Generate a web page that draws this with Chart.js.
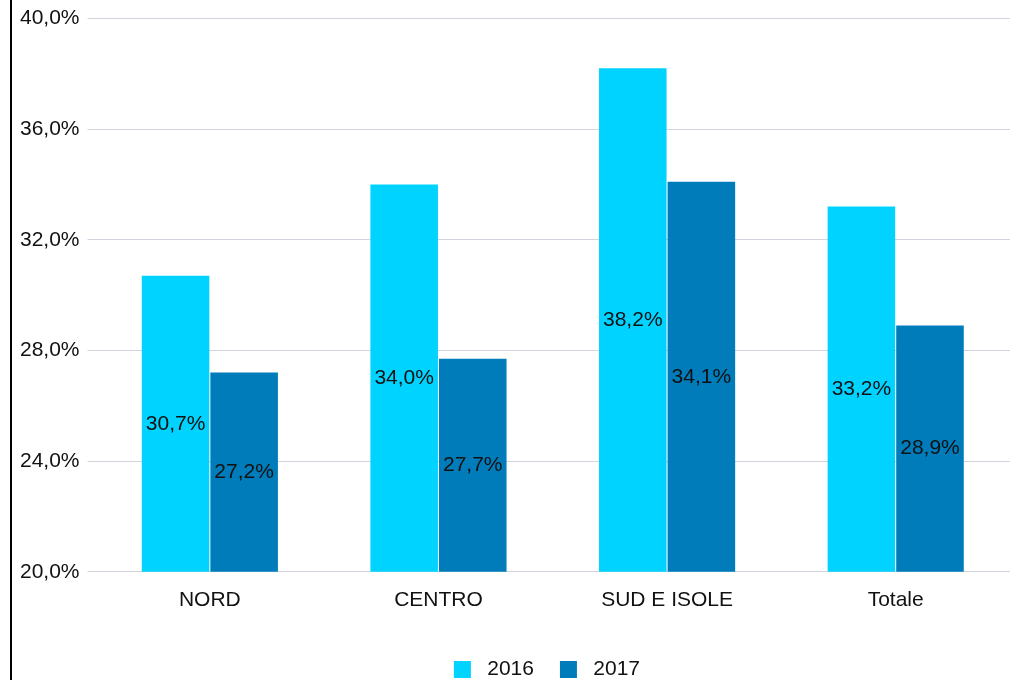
<!DOCTYPE html>
<html>
<head>
<meta charset="utf-8">
<script src="https://cdn.jsdelivr.net/npm/chart.js@4/dist/chart.umd.min.js"></script>
<style>
  body { margin: 0; background: #fff; }
  #wrap { position: absolute; left: 10px; top: 0; width: 1013px; height: 680px; border-left: 2px solid #000; }
</style>
</head>
<body>
<div id="wrap"><canvas id="chart"></canvas></div>
<script>
var categories = ['NORD', 'CENTRO', 'SUD E ISOLE', 'Totale'];
var seriesNames = ['2016', '2017'];
var values2016 = [30.7, 34.0, 38.2, 33.2];
var values2017 = [27.2, 27.7, 34.1, 28.9];
var yTicks = [20, 24, 28, 32, 36, 40];

var FONT = '"Liberation Sans", Arial, sans-serif';

function fmt(v) {
	return v.toFixed(1).replace('.', ',') + '%';
}

// labels in the middle of every bar
var barLabels = {
	id: 'barLabels',
	afterDatasetsDraw: function (chart) {
		var ctx = chart.ctx;
		var yScale = chart.scales.y;
		ctx.save();
		ctx.font = '21px ' + FONT;
		ctx.fillStyle = '#111';
		ctx.textAlign = 'center';
		ctx.textBaseline = 'middle';
		chart.data.datasets.forEach(function (ds, i) {
			chart.getDatasetMeta(i).data.forEach(function (bar, j) {
				var top = yScale.getPixelForValue(ds.data[j]);
				var base = yScale.getPixelForValue(yScale.min);
				ctx.fillText(fmt(ds.data[j]), bar.x, (top + base) / 2);
			});
		});
		ctx.restore();
	}
};

var ctx = document.getElementById('chart');
var chart = new Chart(ctx, {
	type: 'bar',
	data: {
		labels: categories,
		datasets: [
			{ label: seriesNames[0], data: values2016, backgroundColor: '#00d3ff' },
			{ label: seriesNames[1], data: values2017, backgroundColor: '#007cbb' }
		]
	},
	options: {
		responsive: true,
		maintainAspectRatio: false,
		animation: false,
		layout: { padding: { top: 4, right: 15, left: 0, bottom: -10 } },
		datasets: { bar: { categoryPercentage: 0.6, barPercentage: 0.985 } },
		scales: {
			x: {
				grid: { display: false },
				border: { display: false },
				ticks: { color: '#111', font: { size: 21, family: FONT }, padding: 8 },
				afterFit: function (axis) { axis.height += 12; }
			},
			y: {
				min: 20,
				max: 40,
				afterBuildTicks: function (axis) {
					axis.ticks = yTicks.map(function (v) { return { value: v }; });
				},
				grid: { color: '#d3d3e0', tickLength: 8 },
				border: { display: false },
				ticks: {
					color: '#111',
					font: { size: 21, family: FONT, lineHeight: 1.0 },
					padding: 8,
					callback: function (v) { return fmt(v); }
				}
			}
		},
		plugins: {
			legend: {
				position: 'bottom',
				fullSize: false,
				labels: {
					color: '#111',
					boxWidth: 17,
					boxHeight: 17,
					padding: 26,
					font: { size: 21, family: FONT },
					generateLabels: function (chart) {
						var items = Chart.defaults.plugins.legend.labels.generateLabels(chart);
						items.forEach(function (it, i) {
							it.text = ' ' + it.text + (i === items.length - 1 ? '  ' : '');
							it.lineWidth = 0;
						});
						return items;
					}
				}
			},
			tooltip: { enabled: false }
		}
	},
	plugins: [barLabels]
});
</script>
</body>
</html>
